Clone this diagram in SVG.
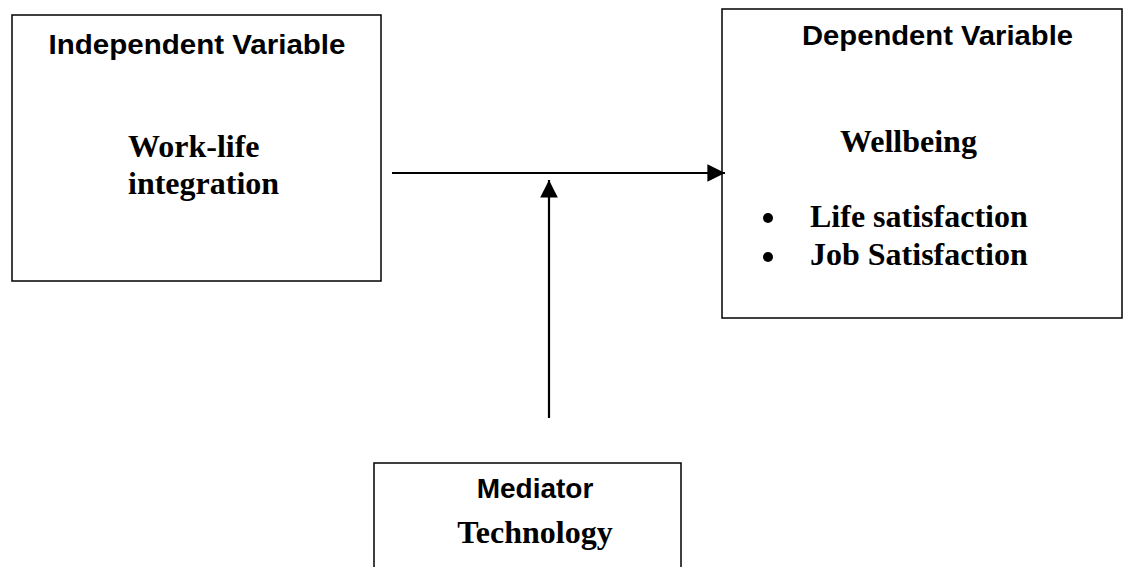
<svg xmlns="http://www.w3.org/2000/svg" width="1123" height="567" viewBox="0 0 1123 567">
<style>
.box{fill:#fff;stroke:#000;stroke-width:1.5}
.h{font-family:"Liberation Sans",Arial,sans-serif;font-weight:bold;font-size:28px;fill:#000}
.t{font-family:"Liberation Serif","Times New Roman",serif;font-weight:bold;font-size:32px;fill:#000}
.ln{stroke:#000;stroke-width:2.2;fill:none}
</style>
<defs>
<marker id="ah" viewBox="0 0 10 10" refX="10" refY="5" markerWidth="8" markerHeight="8" markerUnits="strokeWidth" orient="auto">
<path d="M0,0 L10,5 L0,10 Z" fill="#000"/>
</marker>
</defs>
<rect width="1123" height="567" fill="#fff"/>
<g id="independent">
<rect class="box" x="12" y="15" width="369" height="266"/>
<text class="h" x="197" y="54" text-anchor="middle" textLength="297" lengthAdjust="spacingAndGlyphs">Independent Variable</text>
<text class="t" x="128" y="157">Work-life</text>
<text class="t" x="128" y="194">integration</text>
</g>
<g id="dependent">
<rect class="box" x="722" y="9" width="400" height="309"/>
<text class="h" x="802" y="45" textLength="271" lengthAdjust="spacingAndGlyphs">Dependent Variable</text>
<text class="t" x="840" y="152">Wellbeing</text>
<circle cx="768" cy="218" r="5" fill="#000"/>
<circle cx="768" cy="257" r="5" fill="#000"/>
<text class="t" x="810" y="227">Life satisfaction</text>
<text class="t" x="810" y="265">Job Satisfaction</text>
</g>
<g id="mediator">
<rect class="box" x="374" y="463" width="307" height="120"/>
<text class="h" x="535" y="498" text-anchor="middle">Mediator</text>
<text class="t" x="535" y="543" text-anchor="middle">Technology</text>
</g>
<g id="connectors">
<line class="ln" x1="392" y1="173" x2="725" y2="173" marker-end="url(#ah)"/>
<line class="ln" x1="549" y1="418" x2="549" y2="180" marker-end="url(#ah)"/>
</g>
</svg>
